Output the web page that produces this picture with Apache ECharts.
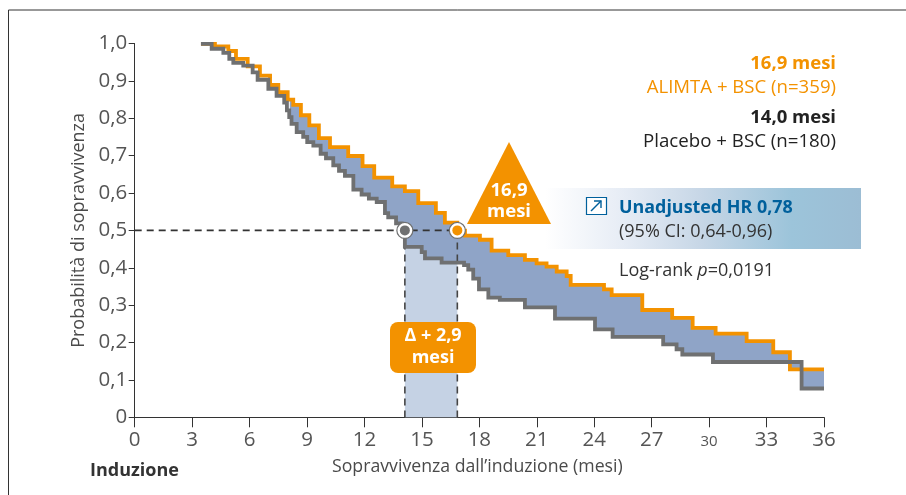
<!DOCTYPE html>
<html><head><meta charset="utf-8">
<style>html,body{margin:0;padding:0;background:#fff}#c{width:906px;height:495px}</style>
<script src="https://cdn.jsdelivr.net/npm/echarts@6/dist/echarts.min.js"></script>
</head><body><div id="c"></div>
<script>
const orangeX=[3.46,4.19,4.89,5.29,5.90,6.54,7.07,7.50,7.99,8.28,8.68,9.12,9.62,10.20,11.15,11.90,12.51,13.45,14.11,14.81,15.73,16.20,16.85,17.25,18.03,18.64,19.51,20.38,20.99,21.51,22.04,22.56,22.77,24.51,24.91,26.51,28.07,29.14,30.34,31.96,33.35,34.22,36];
const orangeY=[.999,.992,.980,.959,.939,.914,.889,.870,.850,.836,.808,.781,.747,.723,.699,.672,.641,.618,.605,.573,.547,.521,.499,.486,.475,.446,.434,.421,.412,.403,.390,.378,.354,.342,.327,.287,.266,.239,.224,.204,.174,.128,.128];
const greyX=[3.46,4.02,4.63,4.94,5.15,5.67,6.16,6.42,6.98,7.41,7.81,7.95,8.07,8.19,8.46,8.80,9.01,9.33,9.71,9.99,10.37,10.67,10.98,11.42,11.85,12.23,12.64,13.07,13.24,13.65,13.95,14.11,14.99,15.16,16.03,17.20,17.42,17.68,17.98,18.47,19.07,20.38,21.95,24.04,24.96,27.60,28.30,28.60,30.20,34.83,36];
const greyY=[.999,.986,.975,.959,.948,.941,.923,.903,.879,.860,.842,.821,.803,.785,.763,.750,.736,.727,.705,.693,.674,.659,.646,.609,.596,.585,.576,.546,.535,.519,.499,.456,.442,.425,.414,.407,.395,.371,.342,.320,.314,.294,.264,.235,.215,.195,.182,.168,.148,.077,.077];
const medianGrey=14.11, medianOrange=16.85, medianLevel=0.5;
const fillFrom=8.1;
const ORANGE='#f39200',GREY='#6f7071',FILL='#8fa4c7',BAND='#c5d2e4',INK='#4a4a4a',BLUE='#00609c';
const FONT='"Open Sans"',TICKFONT='"Liberation Sans Narrow","Open Sans"';

function pairs(xs,ys){return xs.map((x,i)=>[x,ys[i]]);}
function stepPts(xs,ys,from){
  const out=[];let prev=null;
  xs.forEach((x,i)=>{
    if(x<from){prev=ys[i];return;}
    if(!out.length&&prev!==null)out.push([from,prev]);
    if(out.length)out.push([x,out[out.length-1][1]]);
    out.push([x,ys[i]]);
  });
  return out;
}
function text(x,y,t,o){return {type:'text',x,y,z:50,silent:true,style:Object.assign({text:t,font:`${o.b?'bold ':''}${o.s}px ${FONT}`,fill:INK,align:'left',verticalAlign:'middle'},o.st)};}

const chart=echarts.init(document.getElementById('c'),null,{renderer:'canvas'});
chart.setOption({
  animation:false,
  grid:{left:134.7,right:82,top:43.5,bottom:77.7},
  xAxis:{type:'value',min:0,max:36,interval:3,
    name:'Sopravvivenza dall’induzione (mesi)',nameLocation:'middle',nameGap:41,
    nameTextStyle:{fontFamily:FONT,fontSize:17.7,color:INK,padding:[0,4,0,0]},
    axisLine:{onZero:false,lineStyle:{color:'#333',width:1}},
    axisTick:{length:10,lineStyle:{color:'#333',width:1}},
    splitLine:{show:false},
    axisLabel:{margin:12,fontFamily:TICKFONT,fontSize:20.5,color:'#555',
      formatter:v=>v===30?'{s|30}':String(v),rich:{s:{fontFamily:TICKFONT,fontSize:15,color:'#555',padding:[5,0,0,0]}}}},
  yAxis:{type:'value',min:0,max:1,interval:.1,
    name:'Probabilità di sopravvivenza',nameLocation:'middle',nameGap:44,
    nameTextStyle:{fontFamily:FONT,fontSize:18,color:INK},
    axisLine:{show:true,onZero:false,lineStyle:{color:'#333',width:1}},
    axisTick:{length:6,lineStyle:{color:'#333',width:1}},
    splitLine:{show:false},
    axisLabel:{margin:7.5,fontFamily:TICKFONT,fontSize:20.5,color:'#555',
      formatter:v=>v===0?'0':v.toFixed(1).replace('.',',')}},
  series:[
    {type:'custom',silent:true,z:1,data:[[medianGrey,0]],clip:false,
      renderItem:(p,api)=>{const a=api.coord([medianGrey,medianLevel]),b=api.coord([medianOrange,0]);
        return {type:'rect',shape:{x:a[0],y:a[1],width:b[0]-a[0],height:b[1]-a[1]},style:{fill:BAND}};}},
    {type:'custom',silent:true,z:2,data:[[fillFrom,0]],clip:false,
      renderItem:(p,api)=>{
        const top=stepPts(orangeX,orangeY,fillFrom),bot=stepPts(greyX,greyY,fillFrom).reverse();
        return {type:'polygon',shape:{points:top.concat(bot).map(q=>api.coord(q))},style:{fill:FILL}};}},
    {name:'h',type:'line',z:3,silent:true,symbol:'none',data:[[0,medianLevel],[medianOrange,medianLevel]],lineStyle:{color:'#333',width:1.6,type:[7,5]}},
    {name:'v1',type:'line',z:3,silent:true,symbol:'none',data:[[medianGrey,medianLevel],[medianGrey,0]],lineStyle:{color:'#444',width:1.6,type:[7,5]}},
    {name:'v2',type:'line',z:3,silent:true,symbol:'none',data:[[medianOrange,medianLevel],[medianOrange,0]],lineStyle:{color:'#444',width:1.6,type:[7,5]}},
    {name:'Placebo + BSC',type:'line',z:5,silent:true,step:'end',symbol:'none',clip:false,data:pairs(greyX,greyY),lineStyle:{color:GREY,width:3.8,join:'miter',cap:'butt'}},
    {name:'ALIMTA + BSC',type:'line',z:4,silent:true,step:'end',symbol:'none',clip:false,data:pairs(orangeX,orangeY),lineStyle:{color:ORANGE,width:3.8,join:'miter',cap:'butt'}},
    {type:'scatter',z:6,silent:true,symbol:'circle',symbolSize:16,clip:false,
      itemStyle:{color:'#fff',borderColor:GREY,borderWidth:1.2,opacity:1},
      data:[[medianGrey,medianLevel],[medianOrange,medianLevel]]},
    {type:'scatter',z:7,silent:true,symbol:'circle',symbolSize:10,clip:false,
      itemStyle:{opacity:1,color:p=>p.dataIndex===0?GREY:ORANGE},
      data:[[medianGrey,medianLevel],[medianOrange,medianLevel]]}
  ],
  graphic:[
    {type:'polyline',z:0,silent:true,shape:{points:[[8.5,495],[8.5,10],[906,10]]},style:{stroke:'#333',lineWidth:1,fill:null}},
    {type:'rect',z:0,silent:true,shape:{x:545,y:188,width:316,height:61},
      style:{fill:new echarts.graphic.LinearGradient(0,0,1,0,[{offset:0,color:'#ffffff'},{offset:.25,color:'#e6ecf5'},{offset:.5,color:'#c6d6e6'},{offset:.78,color:'#9cc4da'},{offset:1,color:'#9cbdd4'}])}},
    {type:'polygon',z:40,silent:true,shape:{points:[[509,142],[467,224],[551,224]]},style:{fill:ORANGE}},
    {type:'rect',z:40,silent:true,shape:{x:390,y:322,width:86,height:51,r:8},style:{fill:ORANGE}},
    {type:'rect',z:40,silent:true,shape:{x:586.5,y:197.5,width:20,height:17},style:{fill:'#fff',stroke:BLUE,lineWidth:1.2}},
    {type:'polyline',z:41,silent:true,shape:{points:[[591,211],[601,201]]},style:{stroke:BLUE,lineWidth:1.4,fill:null}},
    {type:'polyline',z:41,silent:true,shape:{points:[[594,201],[601,201],[601,208]]},style:{stroke:BLUE,lineWidth:1.4,fill:null}},
    text(836,64,'16,9 mesi',{b:1,s:18.5,st:{fill:ORANGE,align:'right'}}),
    text(836,88,'ALIMTA + BSC (n=359)',{s:18.6,st:{fill:ORANGE,align:'right'}}),
    text(836,118,'14,0 mesi',{b:1,s:18.5,st:{fill:'#222',align:'right'}}),
    text(836,142,'Placebo + BSC (n=180)',{s:18.7,st:{fill:'#222',align:'right'}}),
    text(619,208,'Unadjusted HR 0,78',{b:1,s:17.9,st:{fill:BLUE}}),
    text(619,232,'(95% CI: 0,64-0,96)',{s:18,st:{fill:'#333'}}),
    text(619,271,'Log-rank {i|p}=0,0191',{s:18,st:{fill:'#333',rich:{i:{font:`italic 18px ${FONT}`,fill:'#333'}}}}),
    text(509,191,'16,9',{b:1,s:18.5,st:{fill:'#fff',align:'center'}}),
    text(509,212,'mesi',{b:1,s:18.5,st:{fill:'#fff',align:'center'}}),
    text(433,336,'Δ + 2,9',{b:1,s:18,st:{fill:'#fff',align:'center'}}),
    text(433,358,'mesi',{b:1,s:18,st:{fill:'#fff',align:'center'}}),
    text(90,471,'Induzione',{b:1,s:18,st:{fill:'#333'}})
  ]
});
</script></body></html>
